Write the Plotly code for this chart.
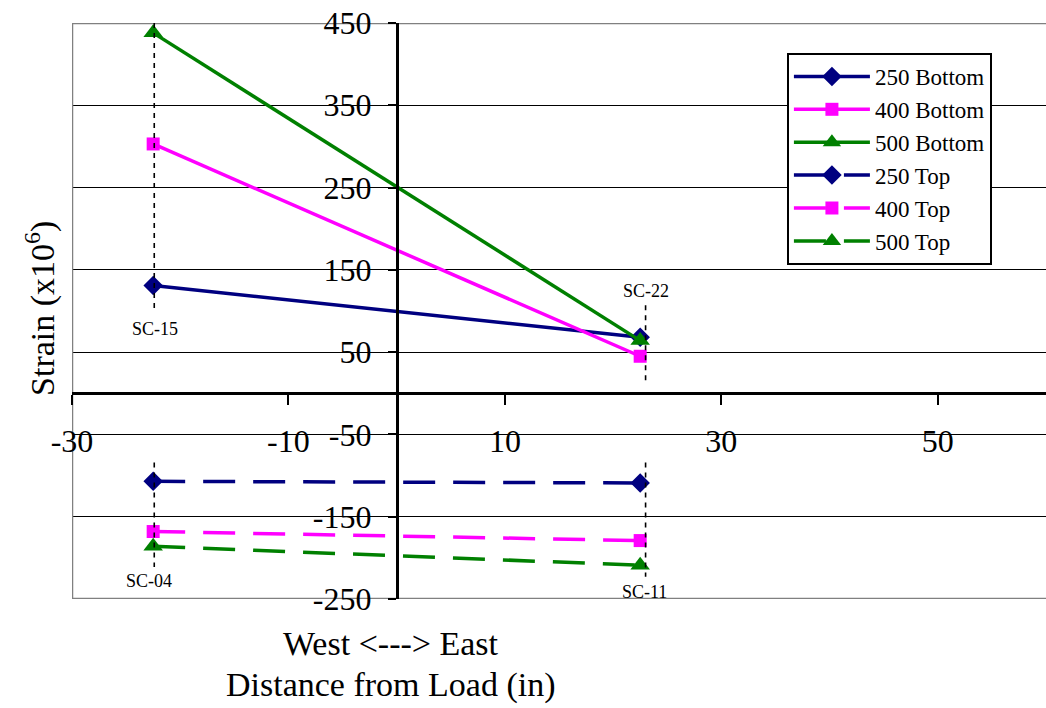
import plotly.graph_objects as go

# Gauge locations along the girder (in from the load point)
x_pos = [-22.5, 22.5]

# Strain readings (microstrain) at the bottom and top gauges
series_names = ["250 Bottom", "400 Bottom", "500 Bottom", "250 Top", "400 Top", "500 Top"]
bottom_250 = [131, 68]
bottom_400 = [303, 45]
bottom_500 = [438, 64]
top_250 = [-107, -109]
top_400 = [-168, -179]
top_500 = [-186, -209]

# Axis tick values and their labels (plain hyphen for negatives)
x_tickvals = [-30, -10, 10, 30, 50]
x_ticktext = ["-30", "-10", "10", "30", "50"]
y_tickvals = [-250, -150, -50, 50, 150, 250, 350, 450]
y_ticktext = ["-250", "-150", "-50", "50", "150", "250", "350", "450"]

# Gauge ids with the x location and vertical extent of each guide line, plus label spot
gauge_ids = ["SC-15", "SC-04", "SC-22", "SC-11"]
gauge_x = [-22.4, -22.4, 23.0, 23.0]
gauge_y0 = [450, -84, 107, -84]
gauge_y1 = [100, -211, 14, -223]
label_x = [-22.3, -22.9, 23.0, 22.9]
label_y = [78, -228, 124, -242]

FONT = "Liberation Serif"
NAVY, MAGENTA, GREEN = "#000080", "#FF00FF", "#008000"

styles = [
    (NAVY, "diamond", 15, "solid"),
    (MAGENTA, "square", 13, "solid"),
    (GREEN, "triangle-up", 17, "solid"),
    (NAVY, "diamond", 15, "32px,18px"),
    (MAGENTA, "square", 13, "32px,18px"),
    (GREEN, "triangle-up", 17, "32px,18px"),
]
values = [bottom_250, bottom_400, bottom_500, top_250, top_400, top_500]

fig = go.Figure()
for name, ys, (col, sym, sz, dash) in zip(series_names, values, styles):
    fig.add_trace(go.Scatter(
        x=x_pos, y=ys, name=name, mode="lines+markers",
        line=dict(color=col, width=3.5, dash=dash),
        marker=dict(color=col, symbol=sym, size=sz, line=dict(width=0)),
    ))

shapes = []
# plot-area border (left, top, bottom) in grey
shapes.append(dict(type="line", xref="x", yref="y", x0=-30, x1=-30, y0=-250, y1=450,
                   line=dict(color="#808080", width=2.5), layer="between"))
shapes.append(dict(type="line", xref="x", yref="y", x0=-30, x1=60, y0=450, y1=450,
                   line=dict(color="#808080", width=2.5), layer="between"))
shapes.append(dict(type="line", xref="x", yref="y", x0=-30, x1=60, y0=-250, y1=-250,
                   line=dict(color="#808080", width=2.5), layer="between"))
# dashed guide lines at each gauge
for gx, g0, g1 in zip(gauge_x, gauge_y0, gauge_y1):
    shapes.append(dict(type="line", xref="x", yref="y", x0=gx, x1=gx, y0=g0, y1=g1,
                       line=dict(color="black", width=1.6, dash="5px,5px"), layer="above"))

annotations = []
for gid, lx, ly in zip(gauge_ids, label_x, label_y):
    annotations.append(dict(x=lx, y=ly, xref="x", yref="y", text=gid, showarrow=False,
                            font=dict(family=FONT, size=18, color="black"),
                            xanchor="center", yanchor="middle"))
annotations.append(dict(x=-0.033, y=0.505, xref="paper", yref="paper",
                        text="Strain (x10<sup>6</sup>)", textangle=-90, showarrow=False,
                        font=dict(family=FONT, size=34, color="black"),
                        xanchor="center", yanchor="middle"))
annotations.append(dict(x=-0.5, y=-0.078, xref="x", yref="paper",
                        text="West &lt;---&gt; East", showarrow=False,
                        font=dict(family=FONT, size=34, color="black"),
                        xanchor="center", yanchor="middle"))
annotations.append(dict(x=-0.5, y=-0.149, xref="x", yref="paper",
                        text="Distance from Load (in)", showarrow=False,
                        font=dict(family=FONT, size=34, color="black"),
                        xanchor="center", yanchor="middle"))

fig.update_layout(
    width=1046, height=708,
    margin=dict(l=72, r=0, t=23, b=109),
    paper_bgcolor="white", plot_bgcolor="white",
    font=dict(family=FONT, color="black"),
    shapes=shapes, annotations=annotations,
    legend=dict(
        x=0.734, y=0.948, xanchor="left", yanchor="top",
        bgcolor="white", bordercolor="black", borderwidth=2,
        font=dict(family=FONT, size=23, color="black"),
        tracegroupgap=0, itemwidth=76,
    ),
    xaxis=dict(
        range=[-30, 60], tickvals=x_tickvals, ticktext=x_ticktext,
        anchor="free", position=250 / 700,
        showline=True, linecolor="black", linewidth=2.5,
        ticks="outside", ticklen=10, tickwidth=2, tickcolor="black",
        showgrid=False, zeroline=False,
        tickfont=dict(family=FONT, size=32, color="black"),
        ticklabelstandoff=9,
    ),
    yaxis=dict(
        range=[-250, 450], tickvals=y_tickvals, ticktext=y_ticktext,
        anchor="free", position=30 / 90,
        showline=True, linecolor="black", linewidth=2.5,
        ticks="outside", ticklen=8, tickwidth=2, tickcolor="black",
        showgrid=True, gridcolor="black", gridwidth=1.4, zeroline=False,
        tickfont=dict(family=FONT, size=32, color="black"),
        ticklabelstandoff=10,
    ),
)

fig.write_html("out.html")
